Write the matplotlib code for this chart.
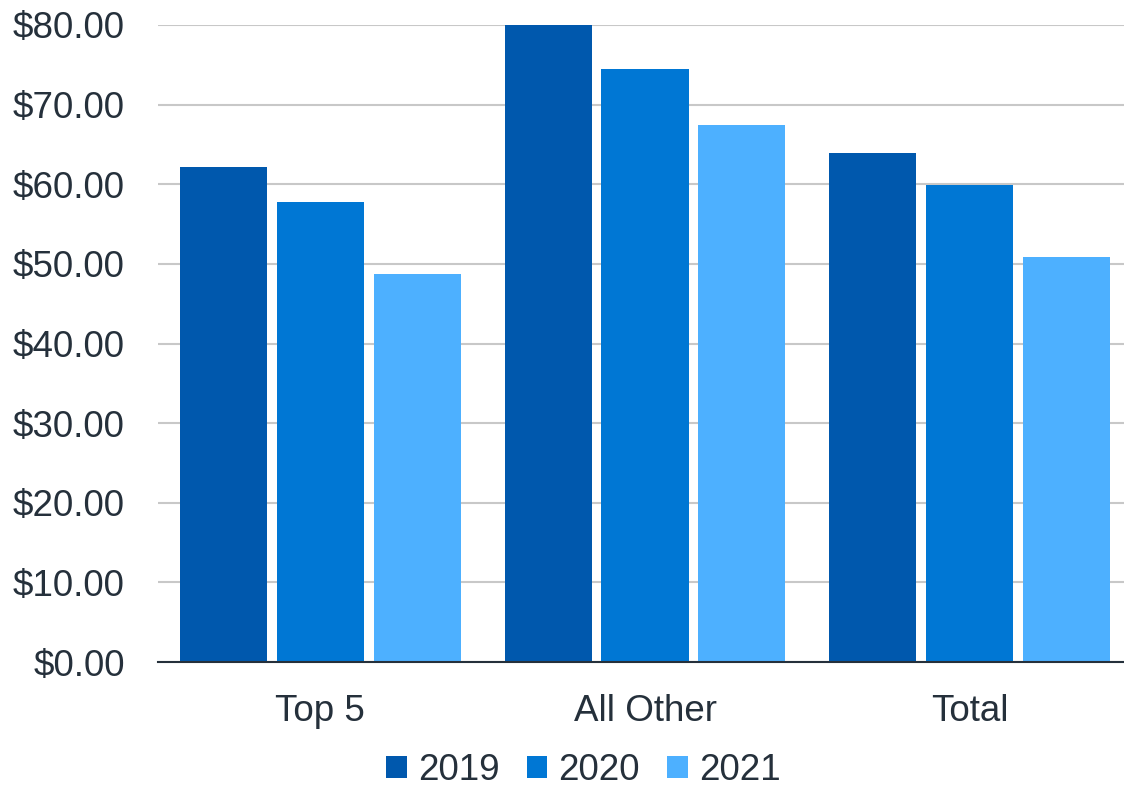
import matplotlib.pyplot as plt
import numpy as np

# price per unit, by segment and year
categories = ["Top 5", "All Other", "Total"]
years = ["2019", "2020", "2021"]
vals_2019 = [62.2, 80.0, 63.9]
vals_2020 = [57.8, 74.5, 59.9]
vals_2021 = [48.7, 67.4, 50.9]

colors = ["#0058AD", "#0077D4", "#4DB0FF"]
text_color = "#25303B"

plt.rcParams['font.family'] = ['Liberation Sans', 'DejaVu Sans']

fig = plt.figure(figsize=(11.24, 7.91), dpi=100)
ax = fig.add_axes([158/1124, 1 - 662/791, (1132 - 158)/1124, (662 - 25)/791])

x = np.arange(len(categories))
width = 0.268
step = 0.2985
for i, (vals, year) in enumerate(zip([vals_2019, vals_2020, vals_2021], years)):
    ax.bar(x + (i - 1)*step, vals, width, color=colors[i], label=year, zorder=3)

ax.set_xlim(-0.5, 2.5)
ax.set_ylim(0, 80)
ax.set_yticks(np.arange(0, 81, 10))
ax.set_yticklabels(["${:.2f}".format(v) for v in np.arange(0, 81, 10)])
ax.set_xticks(x)
ax.set_xticklabels(categories)

ax.grid(axis='y', color='#C8C8C8', linewidth=1.5, zorder=0)
ax.tick_params(axis='both', length=0, labelsize=26.5, labelcolor=text_color)
ax.tick_params(axis='y', pad=24)
ax.tick_params(axis='x', pad=23)
for side in ['top', 'right', 'left']:
    ax.spines[side].set_visible(False)
ax.spines['bottom'].set_color(text_color)
ax.spines['bottom'].set_linewidth(1.5)
ax.spines['bottom'].set_zorder(4)

fig.legend(loc='lower center', bbox_to_anchor=(0.519, -0.038), ncol=3, frameon=False,
           fontsize=26.5, labelcolor=text_color, handlelength=0.55, handleheight=0.55,
           handletextpad=0.3, columnspacing=0.75)

plt.savefig("out.png", dpi=100)
